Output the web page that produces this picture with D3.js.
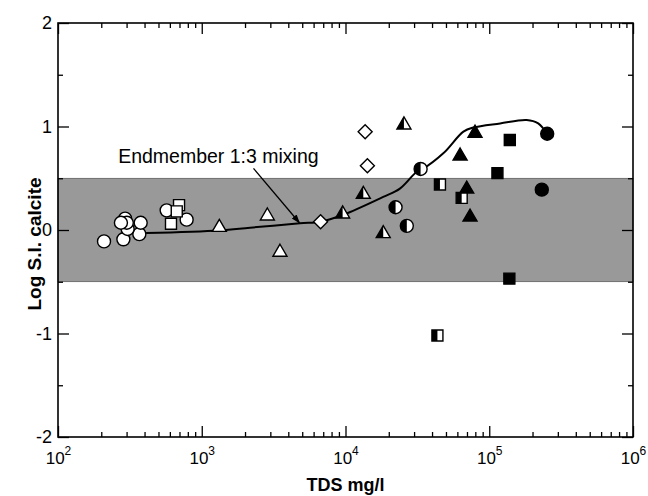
<!doctype html>
<html>
<head>
<meta charset="utf-8">
<script src="https://d3js.org/d3.v7.min.js"></script>
<style>
body { margin: 0; background: #fff; }
text { font-family: "Liberation Sans", Arial, Helvetica, sans-serif; }
</style>
</head>
<body>
<svg></svg>
<script>

// sample points: [TDS mg/l, log S.I. calcite]
var openCircles = [[209,-0.11],[285,-0.09],[368,-0.04],[305,0.01],[376,0.07],[293,0.11],[301,0.07],[274,0.07],[570,0.19],[785,0.10]];
var openSquares = [[695,0.24],[670,0.18],[611,0.06]];
var openTriangles = [[1325,0.03],[2860,0.14],[3500,-0.21]];
var openDiamonds = [[6710,0.08],[13700,0.95],[14200,0.62]];
var halfTriangles = [[9550,0.16],[13300,0.35],[18300,-0.03],[25500,1.02]];
var halfCircles = [[22300,0.22],[26700,0.04],[33300,0.59]];
var halfSquares = [[45400,0.44],[64300,0.31],[43600,-1.02]];
var filledTriangles = [[79600,0.94],[62700,0.72],[69700,0.40],[73500,0.13]];
var filledSquares = [[139000,0.87],[114000,0.55],[138000,-0.47]];
var filledCircles = [[253000,0.93],[232000,0.39]];

// endmember mixing curve
var mixTDS = [410,1325,2170,4820,6710,9550,18300,23900,31300,34400,47900,66100,77500,119000,182000,219000,251000];
var mixSI = [-0.03,-0.005,0.022,0.065,0.08,0.145,0.32,0.40,0.563,0.589,0.741,0.95,0.99,1.03,1.063,1.03,0.934];

var xTickLabels = [2,3,4,5,6];   // exponents of 10
var yTickLabels = [-2,-1,0,1,2];
var yMinor = [-1.5,-0.5,0.5,1.5];
var band = [-0.5,0.5];

var note = {text: "Endmember 1:3 mixing", tx: 262, ty: 0.65, from: [2290,0.596], to: [4780,0.07]};

var W = 648, H = 496;
var svg = d3.select("svg").attr("width", W).attr("height", H);

var x = d3.scaleLog().domain([1e2,1e6]).range([58,633]);
var y = d3.scaleLinear().domain([-2,2]).range([437,23]);

var defs = svg.append("defs");
defs.append("clipPath").attr("id","lefthalf")
	.append("rect").attr("x",-20).attr("y",-20).attr("width",20).attr("height",40);
defs.append("marker").attr("id","arrow")
	.attr("viewBox","0 0 10 10").attr("refX",9).attr("refY",5)
	.attr("markerWidth",9).attr("markerHeight",9).attr("markerUnits","userSpaceOnUse")
	.attr("orient","auto")
	.append("path").attr("d","M0,1.5 L10,5 L0,8.5 Z").attr("fill","#000");

// shaded band
svg.append("rect")
	.attr("x", x.range()[0]).attr("width", x.range()[1]-x.range()[0])
	.attr("y", y(band[1])).attr("height", y(band[0])-y(band[1]))
	.attr("fill","#999").attr("stroke","#444").attr("stroke-width",0.6);

// axes with inward ticks
var majorX = xTickLabels.map(e => Math.pow(10,e));
var minorX = x.ticks().filter(v => majorX.indexOf(v) < 0);

function clean(g) { g.select(".domain").remove(); g.selectAll("line").attr("stroke","#000").attr("stroke-width",1.3); }

svg.append("g").attr("transform","translate(0,"+y.range()[0]+")")
	.call(d3.axisBottom(x).tickValues(minorX).tickSize(-5).tickFormat("")).call(clean);
var bx = svg.append("g").attr("transform","translate(0,"+y.range()[0]+")")
	.call(d3.axisBottom(x).tickValues(majorX).tickSize(-11).tickPadding(12).tickFormat("")).call(clean);
bx.selectAll(".tick text").each(function(d) {
	var t = d3.select(this).attr("font-size",17).attr("fill","#000").attr("dy","0.9em");
	t.append("tspan").text("10");
	t.append("tspan").attr("font-size",12).attr("dy","-0.75em").text(Math.round(Math.log10(d)));
});

svg.append("g").attr("transform","translate(0,"+y.range()[1]+")")
	.call(d3.axisTop(x).tickValues(minorX).tickSize(-5).tickFormat("")).call(clean);
svg.append("g").attr("transform","translate(0,"+y.range()[1]+")")
	.call(d3.axisTop(x).tickValues(majorX).tickSize(-11).tickFormat("")).call(clean);

svg.append("g").attr("transform","translate("+x.range()[0]+",0)")
	.call(d3.axisLeft(y).tickValues(yMinor).tickSize(-5).tickFormat("")).call(clean);
svg.append("g").attr("transform","translate("+x.range()[0]+",0)")
	.call(d3.axisLeft(y).tickValues(yTickLabels).tickSize(-11).tickPadding(6).tickFormat(d => String(d)))
	.call(clean)
	.selectAll("text").attr("font-size",18).attr("fill","#000");

svg.append("g").attr("transform","translate("+x.range()[1]+",0)")
	.call(d3.axisRight(y).tickValues(yMinor).tickSize(-5).tickFormat("")).call(clean);
svg.append("g").attr("transform","translate("+x.range()[1]+",0)")
	.call(d3.axisRight(y).tickValues(yTickLabels).tickSize(-11).tickFormat("")).call(clean);

// frame
svg.append("rect")
	.attr("x", x.range()[0]).attr("y", y.range()[1])
	.attr("width", x.range()[1]-x.range()[0]).attr("height", y.range()[0]-y.range()[1])
	.attr("fill","none").attr("stroke","#000").attr("stroke-width",1.6);

// mixing curve
var line = d3.line().x(d => x(d[0])).y(d => y(d[1])).curve(d3.curveCatmullRom.alpha(0.5));
svg.append("path")
	.datum(mixTDS.map((v,i) => [v, mixSI[i]]))
	.attr("d", line)
	.attr("fill","none").attr("stroke","#000").attr("stroke-width",2);

// marker shapes
var shapes = {
	circle: "M-6.5,0 A6.5,6.5 0 1,0 6.5,0 A6.5,6.5 0 1,0 -6.5,0 Z",
	square: "M-5.5,-5.5 H5.5 V5.5 H-5.5 Z",
	triangle: "M0,-7.5 L7,4.5 L-7,4.5 Z",
	diamond: "M0,-7 L7,0 L0,7 L-7,0 Z"
};

function plot(data, shape, style) {
	var g = svg.append("g").selectAll("g").data(data).enter().append("g")
		.attr("transform", d => "translate("+x(d[0])+","+y(d[1])+")");
	g.append("path").attr("d", shapes[shape])
		.attr("fill", style == "filled" ? "#000" : "#fff")
		.attr("stroke","#000").attr("stroke-width",1.4);
	if (style == "half") {
		g.append("path").attr("d", shapes[shape])
			.attr("clip-path","url(#lefthalf)").attr("fill","#000");
	}
}

plot(openCircles, "circle", "open");
plot(openSquares, "square", "open");
plot(openTriangles, "triangle", "open");
plot(openDiamonds, "diamond", "open");
plot(halfTriangles, "triangle", "half");
plot(halfCircles, "circle", "half");
plot(halfSquares, "square", "half");
plot(filledTriangles, "triangle", "filled");
plot(filledSquares, "square", "filled");
plot(filledCircles, "circle", "filled");

// annotation
svg.append("line")
	.attr("x1", x(note.from[0])).attr("y1", y(note.from[1]))
	.attr("x2", x(note.to[0])).attr("y2", y(note.to[1]))
	.attr("stroke","#000").attr("stroke-width",1.3)
	.attr("marker-end","url(#arrow)");
svg.append("text")
	.attr("x", x(note.tx)).attr("y", y(note.ty))
	.attr("font-size",19.5).attr("fill","#000")
	.text(note.text);

// axis titles
svg.append("text")
	.attr("transform","translate(41,244) rotate(-90)")
	.attr("text-anchor","middle").attr("font-size",19).attr("font-weight","bold")
	.text("Log S.I. calcite");
svg.append("text")
	.attr("x", (x.range()[0]+x.range()[1])/2).attr("y", 491)
	.attr("text-anchor","middle").attr("font-size",18).attr("font-weight","bold")
	.text("TDS mg/l");

</script>
</body>
</html>
